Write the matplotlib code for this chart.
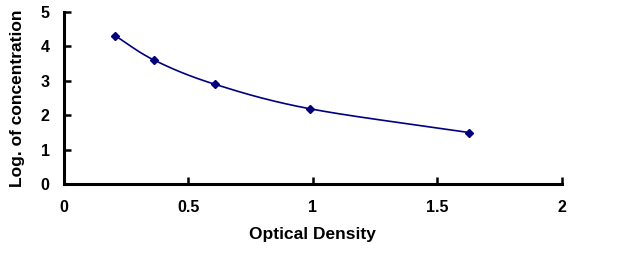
import numpy as np
import matplotlib.pyplot as plt

# readings taken off the reference curve
od = [0.207, 0.365, 0.606, 0.988, 1.629]
log_conc = [4.30, 3.59, 2.90, 2.19, 1.50]

x_ticks = [0, 0.5, 1, 1.5, 2]
x_tick_labels = ['0', '0.5', '1', '1.5', '2']
y_ticks = [0, 1, 2, 3, 4, 5]


def smooth_curve(xs, ys, n=40):
    """Catmull-Rom spline through the points (like a spreadsheet smoothed line)."""
    pts = np.column_stack([xs, ys])
    pts = np.vstack([2 * pts[0] - pts[1], pts, 2 * pts[-1] - pts[-2]])
    out = []
    t = np.linspace(0, 1, n)[:, None]
    for i in range(1, len(pts) - 2):
        p0, p1, p2, p3 = pts[i - 1], pts[i], pts[i + 1], pts[i + 2]
        seg = 0.5 * ((2 * p1) + (-p0 + p2) * t
                     + (2 * p0 - 5 * p1 + 4 * p2 - p3) * t ** 2
                     + (-p0 + 3 * p1 - 3 * p2 + p3) * t ** 3)
        out.append(seg)
    out = np.vstack(out)
    return out[:, 0], out[:, 1]


plt.rcParams['font.family'] = ['Liberation Sans', 'DejaVu Sans']
plt.rcParams['font.weight'] = 'bold'

fig = plt.figure(figsize=(6.42, 2.62), dpi=100)
ax = fig.add_axes([0.099, 0.296, 0.776, 0.660])

color = '#000080'
cx, cy = smooth_curve(od, log_conc)
ax.plot(cx, cy, color=color, lw=1.2)
ax.plot(od, log_conc, 'D', color=color, markersize=4.5)

ax.set_xlim(0, 2)
ax.set_ylim(0, 5)
ax.set_xticks(x_ticks)
ax.set_xticklabels(x_tick_labels)
ax.set_yticks(y_ticks)

for side in ['top', 'right']:
    ax.spines[side].set_visible(False)
for side in ['left', 'bottom']:
    ax.spines[side].set_linewidth(2.2)
ax.tick_params(direction='in', length=5, width=1.8, labelsize=11.5)
ax.tick_params(axis='x', pad=11)
ax.tick_params(axis='y', pad=10)

ax.set_xlabel('Optical Density', fontsize=12.5, fontweight='bold', labelpad=9)
ax.set_ylabel('Log. of concentration', fontsize=12.5, fontweight='bold', labelpad=11)

fig.savefig('out.png', dpi=100)
